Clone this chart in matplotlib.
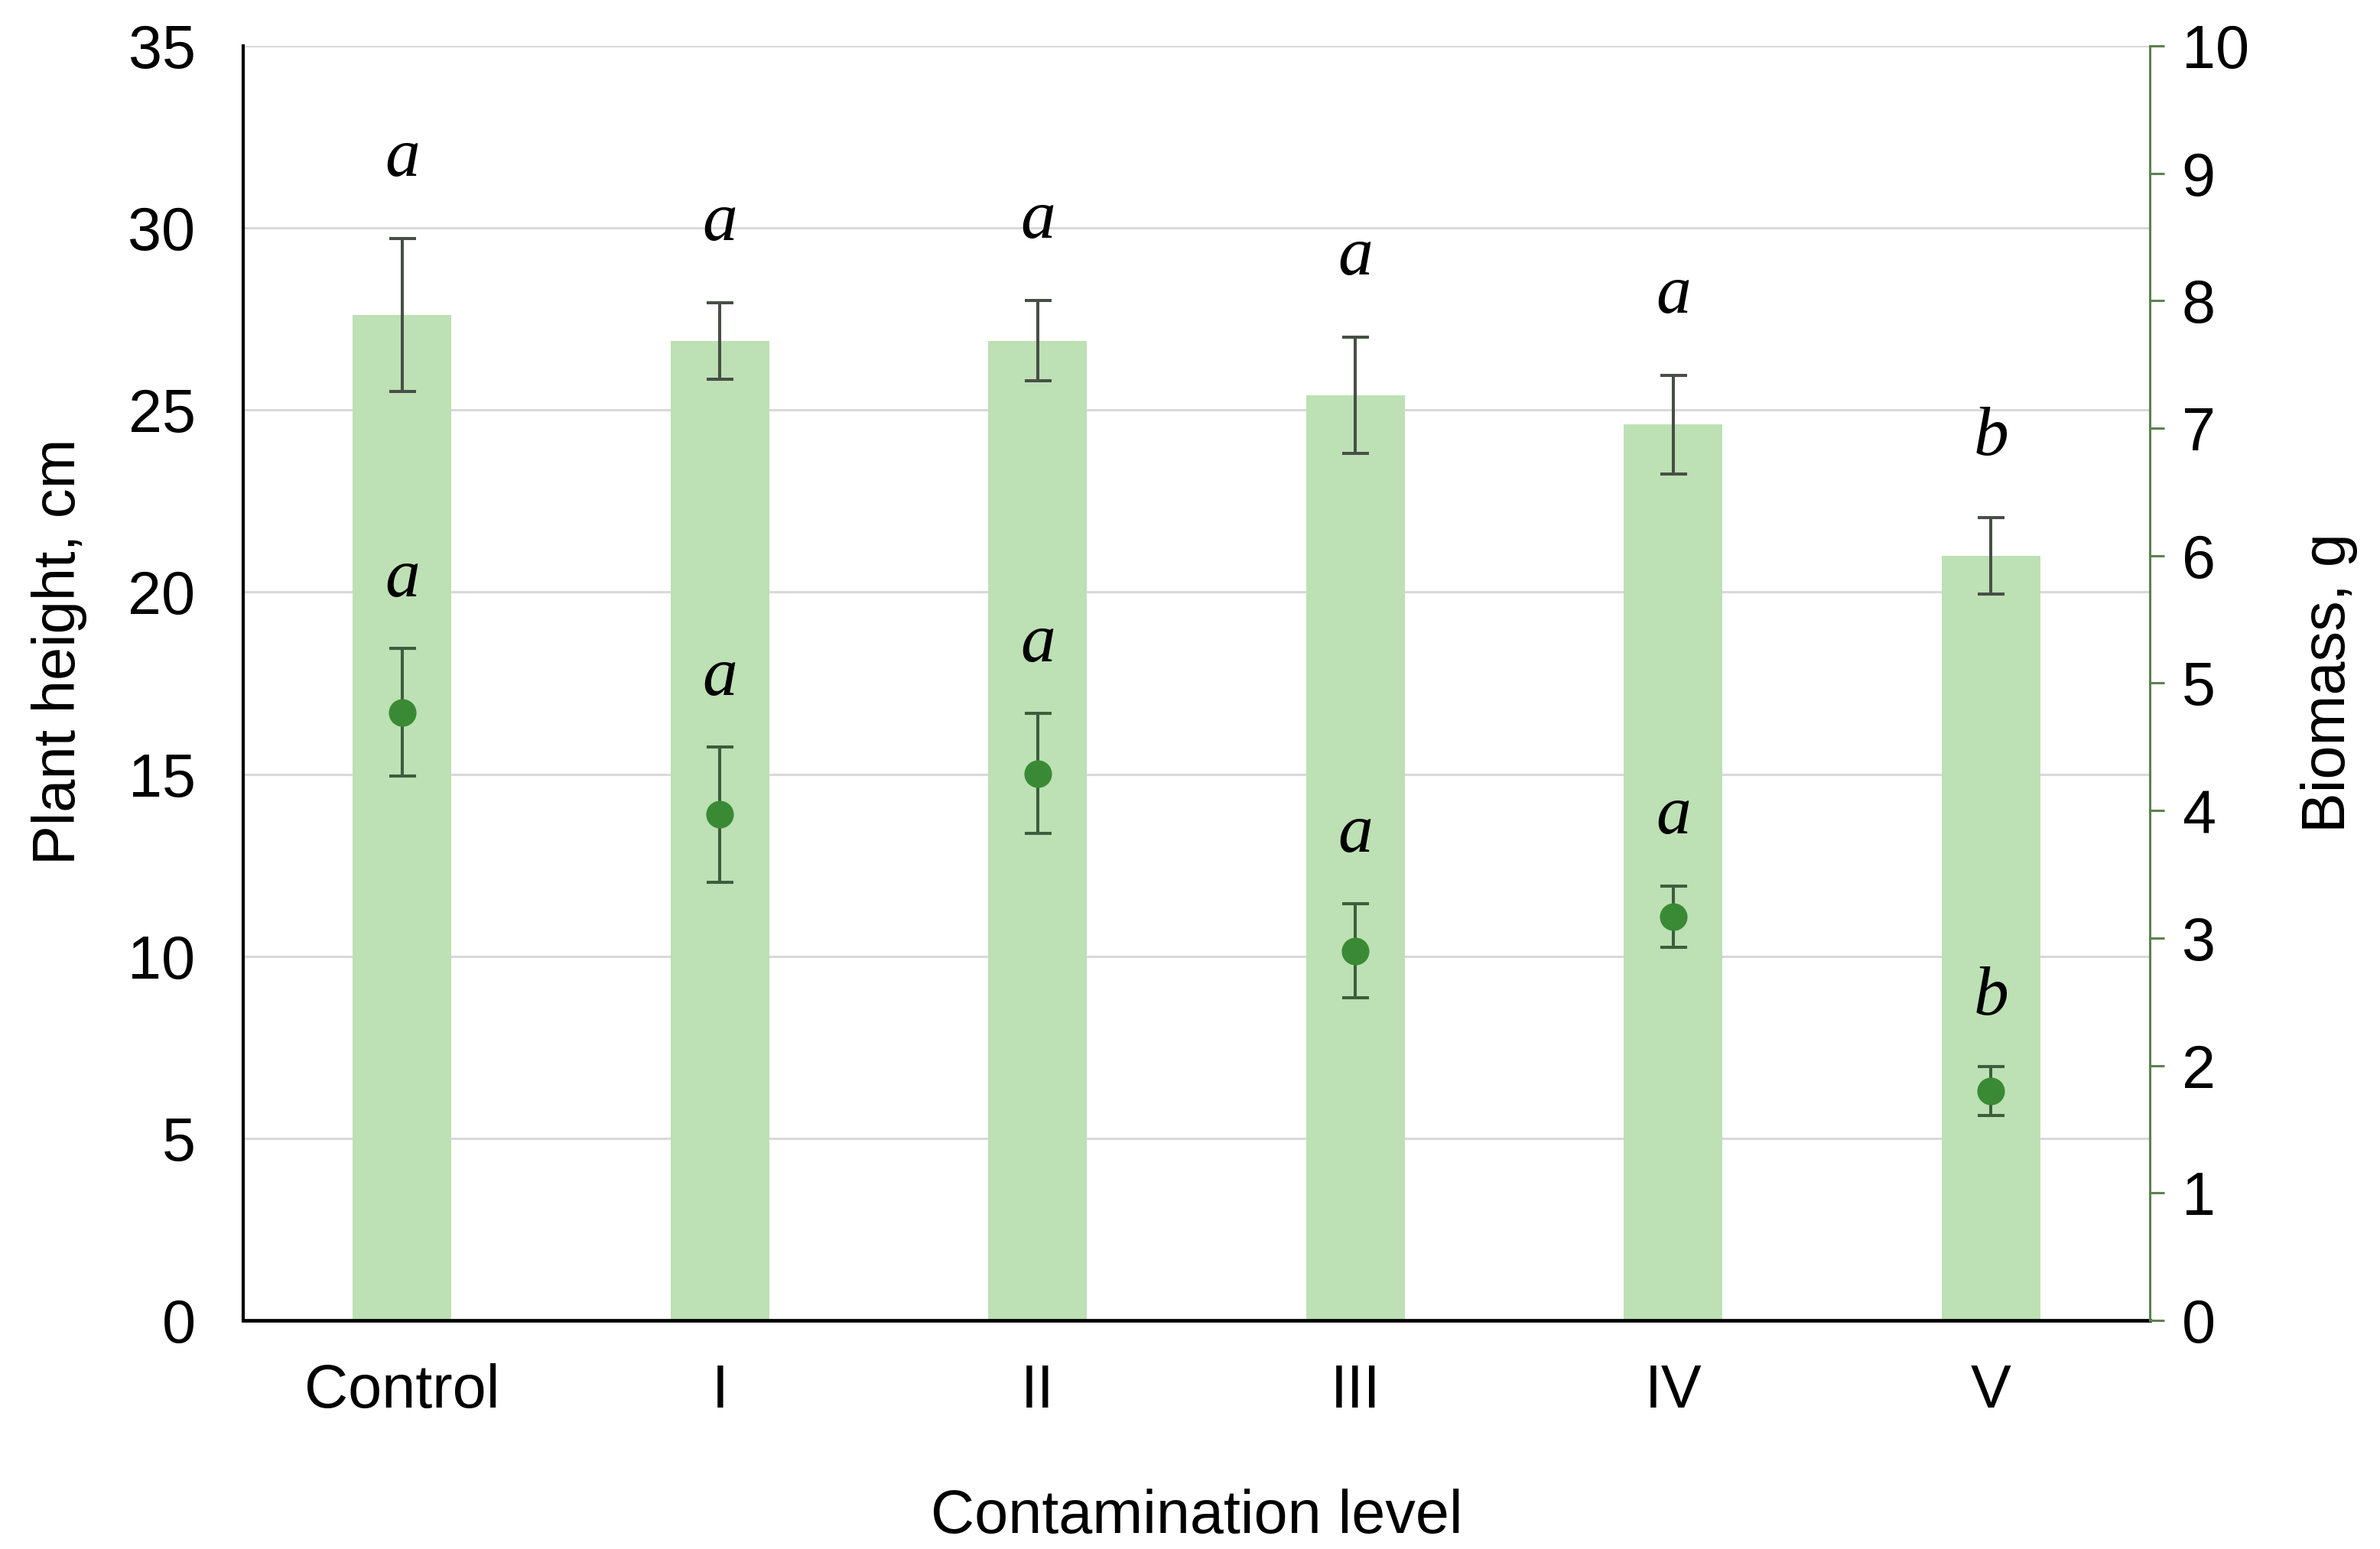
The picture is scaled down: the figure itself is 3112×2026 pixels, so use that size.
import matplotlib
matplotlib.use("Agg")
import matplotlib.pyplot as plt
import numpy as np

categories = ["Control", "I", "II", "III", "IV", "V"]
height_mean = [27.6, 26.9, 26.9, 25.4, 24.6, 21.0]
height_err = [2.1, 1.05, 1.1, 1.6, 1.35, 1.05]
height_letters = ["a", "a", "a", "a", "a", "b"]
biomass_mean = [4.77, 3.97, 4.29, 2.90, 3.17, 1.80]
biomass_err = [0.50, 0.53, 0.47, 0.37, 0.24, 0.19]
biomass_letters = ["a", "a", "a", "a", "a", "b"]
left_ticks = [0, 5, 10, 15, 20, 25, 30, 35]
right_ticks = [0, 1, 2, 3, 4, 5, 6, 7, 8, 9, 10]

plt.rcParams['font.family'] = ['Liberation Sans', 'DejaVu Sans']

bar_color = "#bde0b4"
bar_err_color = "#474f47"
pt_color = "#3a8a35"
pt_err_color = "#3d5e3d"
right_spine_color = "#5c8250"

fig = plt.figure(figsize=(31.12, 20.26), dpi=100)
ax = fig.add_axes([0.1022, 0.1476, 0.8011, 0.8228])
x = np.arange(len(categories))

ax.bar(x, height_mean, width=0.31, color=bar_color, zorder=2)
ax.errorbar(x, height_mean, yerr=height_err, fmt='none', ecolor=bar_err_color,
            elinewidth=2.9, capsize=12.6, capthick=2.9, zorder=3)
ax.set_xlim(-0.5, 5.5)
ax.set_ylim(0, 35)
ax.set_yticks(left_ticks)
ax.set_xticks(x)
ax.set_xticklabels(categories)
ax.yaxis.grid(True, color='#d9d9d9', lw=2.2, zorder=0)
ax.set_axisbelow(True)
for s in ['top', 'right']:
    ax.spines[s].set_visible(False)
ax.spines['left'].set_linewidth(3)
ax.spines['left'].set_color('black')
ax.spines['bottom'].set_linewidth(3.4)
ax.spines['bottom'].set_color('black')
ax.tick_params(axis='y', length=0, pad=45, labelsize=57)
ax.tick_params(axis='x', length=0, pad=40, labelsize=57)
ax.set_ylabel("Plant height, cm", fontsize=56)
ax.yaxis.set_label_coords(-0.082, 0.525)
ax.set_xlabel("Contamination level", fontsize=57)
ax.xaxis.set_label_coords(0.5, -0.132)

for i in range(len(categories)):
    ax.annotate(height_letters[i], (x[i], height_mean[i] + height_err[i]),
                xytext=(0, 75), textcoords='offset points', ha='center', va='center',
                fontsize=66, fontstyle='italic', family='Liberation Serif', zorder=5)

ax2 = ax.twinx()
ax2.set_ylim(0, 10)
ax2.set_yticks(right_ticks)
ax2.errorbar(x, biomass_mean, yerr=biomass_err, fmt='o', color=pt_color, ms=25,
             mec=pt_color, ecolor=pt_err_color, elinewidth=2.9, capsize=12.6,
             capthick=2.9, zorder=4)
for s in ['top', 'left', 'bottom']:
    ax2.spines[s].set_visible(False)
ax2.spines['right'].set_color(right_spine_color)
ax2.spines['right'].set_linewidth(2.2)
ax2.tick_params(axis='y', length=14, width=2.2, color=right_spine_color,
                direction='out', pad=16, labelsize=57)
ax2.set_ylabel("Biomass, g", fontsize=57, rotation=90)
ax2.yaxis.set_label_coords(1.079, 0.5)

for i in range(len(categories)):
    ax2.annotate(biomass_letters[i], (x[i], biomass_mean[i] + biomass_err[i]),
                 xytext=(0, 65), textcoords='offset points', ha='center', va='center',
                 fontsize=66, fontstyle='italic', family='Liberation Serif', zorder=5)

fig.savefig("out.png", dpi=100, facecolor='white')
